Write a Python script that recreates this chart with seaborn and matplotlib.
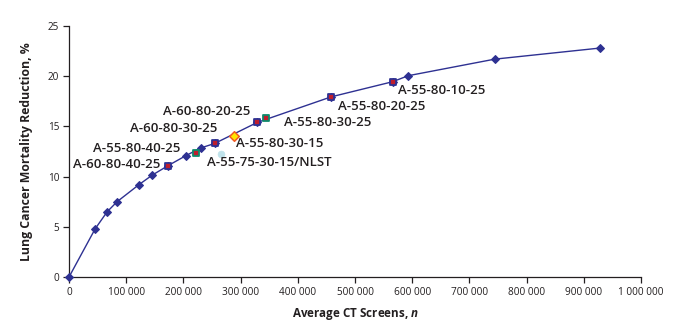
import matplotlib
matplotlib.use("Agg")
import matplotlib.pyplot as plt
from matplotlib.ticker import FuncFormatter, MultipleLocator
import seaborn as sns
import pandas as pd

# Efficient frontier of screening strategies
frontier_screens = [0, 45700, 66700, 84000, 122300, 145500, 173400, 204700, 230100,
                    254500, 329200, 458600, 565700, 593000, 744300, 927500]
frontier_reduction = [0, 4.8, 6.5, 7.5, 9.2, 10.15, 11.1, 12.1, 12.85,
                      13.3, 15.4, 17.95, 19.45, 20.05, 21.7, 22.8]

# Named strategies
strategy_names = ["A-60-80-40-25", "A-55-80-40-25", "A-60-80-30-25", "A-60-80-20-25",
                  "A-55-80-30-25", "A-55-80-30-15", "A-55-75-30-15/NLST",
                  "A-55-80-20-25", "A-55-80-10-25"]
strategy_screens = [173400, 222000, 254500, 329200, 344900, 288700, 266000, 458600, 565700]
strategy_reduction = [11.1, 12.35, 13.3, 15.4, 15.85, 14.0, 12.3, 17.95, 19.45]
strategy_kind = ["frontier", "near", "frontier", "frontier", "near", "orig", "nlst",
                 "frontier", "frontier"]

NAVY = "#2e3192"
RED = "#be1e2d"
TEXT = "#231f20"

sns.set_theme(style="ticks")
plt.rcParams["font.family"] = ["Open Sans", "DejaVu Sans"]
plt.rcParams["mathtext.fontset"] = "custom"
plt.rcParams["mathtext.it"] = "Open Sans:italic:bold"

fig = plt.figure(figsize=(6.98, 3.28), dpi=100)
ax = fig.add_axes([0.0989, 0.1555, 0.8195, 0.7652])

frontier = pd.DataFrame({"screens": frontier_screens, "reduction": frontier_reduction})
sns.lineplot(data=frontier, x="screens", y="reduction", ax=ax, color=NAVY, lw=1.0,
             marker="D", markersize=4.4, markeredgecolor=NAVY, markerfacecolor=NAVY,
             clip_on=False, zorder=3)

strategies = pd.DataFrame({"name": strategy_names, "screens": strategy_screens,
                           "reduction": strategy_reduction, "kind": strategy_kind})
styles = {
    "frontier": dict(marker="s", s=24, facecolor=RED, edgecolor=NAVY, linewidth=1.3),
    "near": dict(marker="s", s=24, facecolor=RED, edgecolor="#0e8a6c", linewidth=1.3),
    "orig": dict(marker="D", s=24, facecolor="#ffe400", edgecolor="#f15a24", linewidth=1.1),
    "nlst": dict(marker="o", s=24, facecolor="#bfe2ea", edgecolor="#bfe2ea", linewidth=0.5),
}
for kind, st in styles.items():
    sub = strategies[strategies["kind"] == kind]
    sns.scatterplot(data=sub, x="screens", y="reduction", ax=ax, zorder=4, clip_on=False,
                    legend=False, **st)

# Label placement (offset in pixels, horizontal alignment)
label_pos = {
    "A-60-80-40-25": ((-8, 1.5), "right"),
    "A-55-80-40-25": ((-15.5, 5), "right"),
    "A-60-80-30-25": ((3, 14.5), "right"),
    "A-60-80-20-25": ((-7, 11), "right"),
    "A-55-80-30-25": ((18, -4.5), "left"),
    "A-55-80-30-15": ((2, -7.5), "left"),
    "A-55-75-30-15/NLST": ((-14.5, -8.5), "left"),
    "A-55-80-20-25": ((7, -9.7), "left"),
    "A-55-80-10-25": ((5, -8.3), "left"),
}
for name, xv, yv in zip(strategy_names, strategy_screens, strategy_reduction):
    off, ha = label_pos[name]
    ax.annotate(name, (xv, yv), xytext=off, textcoords="offset pixels", ha=ha,
                va="center", fontsize=9.5, fontweight="semibold", color=TEXT, zorder=5)

ax.set_xlim(0, 1000000)
ax.set_ylim(0, 25)
ax.xaxis.set_major_locator(MultipleLocator(100000))
ax.yaxis.set_major_locator(MultipleLocator(5))
ax.xaxis.set_major_formatter(FuncFormatter(lambda v, p: f"{int(v):,}".replace(",", " ")))
ax.tick_params(axis="both", direction="out", length=4, width=0.9, color=TEXT,
               labelsize=7.2, labelcolor=TEXT, pad=3)
for side in ("top", "right"):
    ax.spines[side].set_visible(False)
for side in ("left", "bottom"):
    ax.spines[side].set_color(TEXT)
    ax.spines[side].set_linewidth(0.9)

ax.set_xlabel(r"Average CT Screens, $n$", fontsize=8.4, fontweight="bold", color=TEXT,
              labelpad=6)
ax.set_ylabel("Lung Cancer Mortality Reduction, %", fontsize=8.8, fontweight="bold",
              color=TEXT, labelpad=11)

fig.savefig("out.png", dpi=100)
